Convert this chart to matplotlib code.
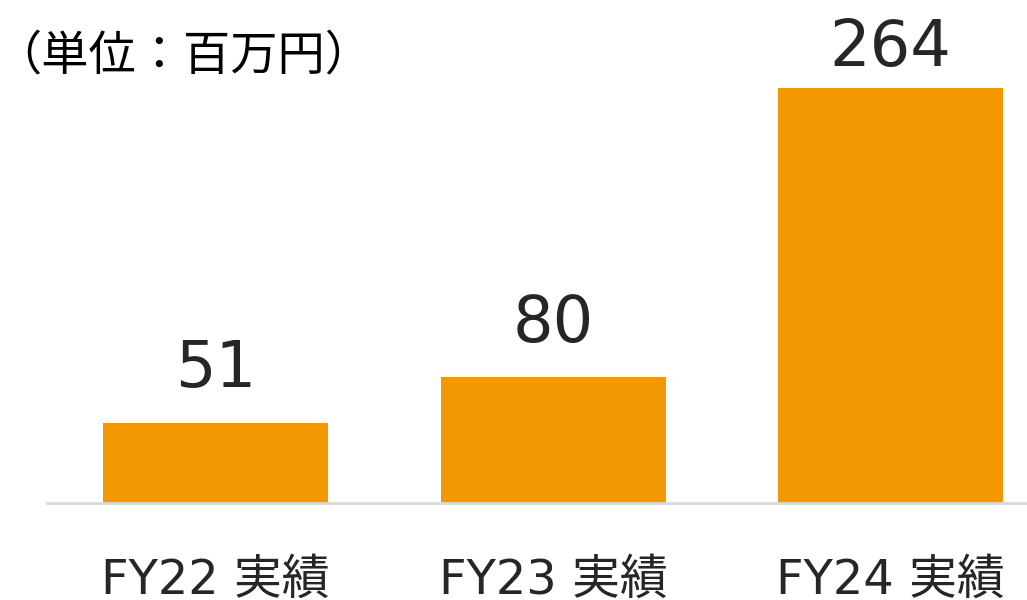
import numpy as np
import matplotlib
matplotlib.use('Agg')
import matplotlib.pyplot as plt

# Latin in a Verdana-like face, kana/kanji fall back to Noto CJK
plt.rcParams['font.family'] = ['DejaVu Sans', 'Noto Sans CJK JP']

categories = ['FY22 実績', 'FY23 実績', 'FY24 実績']
values = [51, 80, 264]
unit_label = '（単位：百万円）'

bar_color = '#F39800'
text_color = '#262626'

fig = plt.figure(figsize=(10.27, 6.0), dpi=100)
# axes reaches past the right edge on purpose, the last bar sits near the border
ax = fig.add_axes([47 / 1027, 97 / 600, 1012.5 / 1027, 503 / 600])
ax.set_xlim(-0.5, 2.5)
ax.set_ylim(0, 320)

x = np.arange(len(categories))
ax.bar(x, values, width=0.667, color=bar_color, zorder=2)

for xi, v in zip(x, values):
    y = min(v + 22.5, 278)   # keep the tallest label inside the figure
    ax.text(xi, y, str(v), ha='center', va='baseline', fontsize=46, color=text_color)

ax.set_xticks(x)
ax.set_xticklabels(categories, fontsize=34.5, color=text_color)
ax.tick_params(axis='x', length=0, pad=39)
ax.set_yticks([])
for s in ['top', 'right', 'left']:
    ax.spines[s].set_visible(False)
ax.spines['bottom'].set_color('#D9D9D9')
ax.spines['bottom'].set_linewidth(2)

fig.text(-0.006, 0.905, unit_label, ha='left', va='center', fontsize=34, color='black')

fig.savefig('out.png', dpi=100)
